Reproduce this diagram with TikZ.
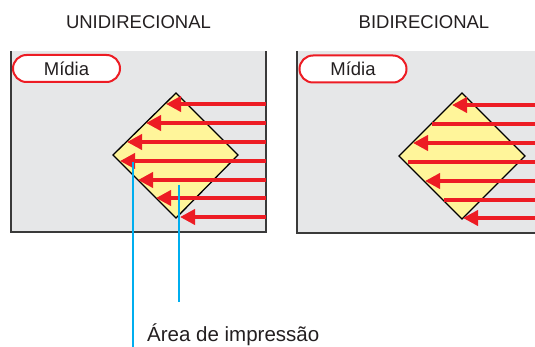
\documentclass[tikz,border=0pt]{standalone}
\usepackage{fontspec}
\setmainfont{Liberation Sans}
\usetikzlibrary{arrows.meta}
\definecolor{mediagray}{HTML}{E6E7E8}
\definecolor{passred}{HTML}{ED1C24}
\definecolor{areayellow}{HTML}{FFF59A}
\definecolor{leadblue}{HTML}{00AEEF}
\definecolor{rimgray}{HTML}{3A3A3A}
\definecolor{inkgray}{HTML}{231F20}
\tikzset{
  panel/.style={fill=mediagray},
  panelrim/.style={draw=rimgray, line width=1.5pt},
  midia/.style={draw=passred, fill=white, line width=2pt, rounded corners=13.5pt,
    minimum width=107pt, minimum height=27pt, inner sep=0pt,
    font=\fontsize{18.5}{20}\selectfont, text=inkgray},
  printarea/.style={fill=areayellow, draw=black, line width=1.3pt},
  pass/.style={draw=passred, line width=4.5pt},
  passtip/.style={pass, -{Triangle[length=15pt,width=15pt]}},
  lead/.style={draw=leadblue, line width=2pt},
  heading/.style={font=\fontsize{18.5}{20}\selectfont, text=inkgray}
}
\begin{document}
\begin{tikzpicture}[x=1pt,y=-1pt]
    \useasboundingbox (0,0) rectangle (535,347);

    % Titles
    \node[heading] (uni) at (138.5,22) {UNIDIRECIONAL};
    \node[heading] (bi) at (424,22) {BIDIRECIONAL};

    % Media panels
    \fill[panel] (11,51) rectangle (266,232);
    \draw[panelrim] (11,51) -- (11,232) -- (266,232) -- (266,51);
    \fill[panel] (297,51) rectangle (540,233);
    \draw[panelrim] (297,51) -- (297,233) -- (540,233);

    \node[midia] (midiaL) at (66.5,68.5) {Mídia};
    \node[midia] (midiaR) at (353,69) {Mídia};

    % Print areas
    \draw[printarea] (176,93) -- (238,155) -- (176,218) -- (113,155) -- cycle;
    \draw[printarea] (462,93) -- (525,156) -- (462,219) -- (399,156) -- cycle;

    % Unidirectional passes
    \foreach \y/\tip in {104/166, 123/146, 142/127, 161/120, 180/138, 198/156, 217/180}
        \draw[passtip] (266,\y) -- (\tip,\y);

    % Bidirectional passes
    \foreach \y/\tip in {105/452, 143/413, 181/425, 218/463}
        \draw[passtip] (536,\y) -- (\tip,\y);
    \foreach \y/\tip in {124/432, 162/408, 200/444}
        \draw[pass] (536,\y) -- (\tip,\y);

    % Leader lines and label
    \coordinate (leadA) at (133,162);
    \coordinate (leadAend) at (133,350);
    \coordinate (leadB) at (179,185);
    \coordinate (leadBend) at (179,302);
    \draw[lead] (leadA) -- (leadAend);
    \draw[lead] (leadB) -- (leadBend);
    \node[font=\fontsize{20.5}{22}\selectfont, text=inkgray, anchor=base west,
        inner sep=0pt] (area) at (147,341.5) {Área de impressão};

\end{tikzpicture}
\end{document}
